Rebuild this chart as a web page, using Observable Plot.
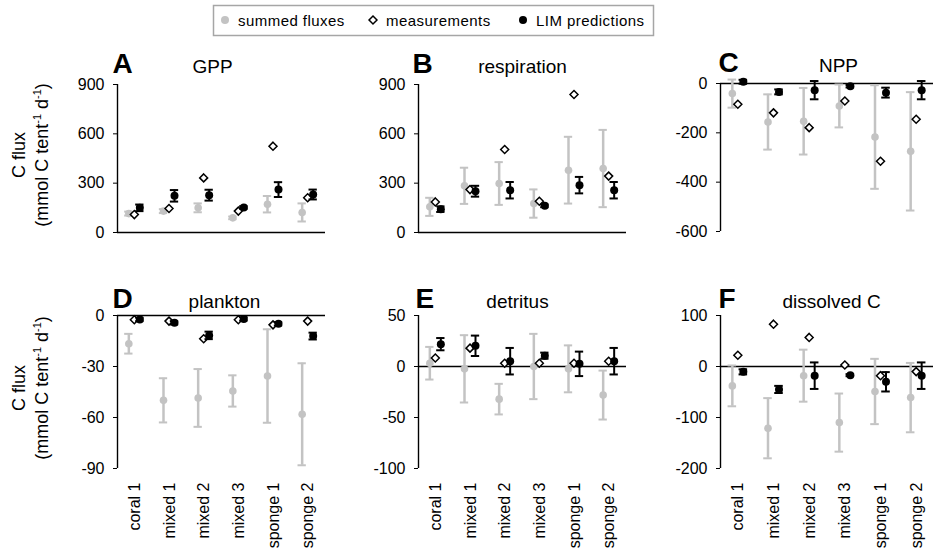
<!DOCTYPE html>
<html><head><meta charset="utf-8">
<script src="https://cdn.jsdelivr.net/npm/d3@7"></script>
<script src="https://cdn.jsdelivr.net/npm/@observablehq/plot@0.6"></script>
<style>
html,body{margin:0;padding:0;background:#fff;overflow:hidden;}
#root{position:relative;width:933px;height:550px;overflow:hidden;font-family:"Liberation Sans",Arial,sans-serif;}
.panel{position:absolute;}
.panel svg{overflow:visible;max-width:none;background:transparent;}
#overlay{position:absolute;left:0;top:0;}
</style></head><body><div id="root"></div>
<script>
// ---------- data ----------
const categories = ["coral 1", "mixed 1", "mixed 2", "mixed 3", "sponge 1", "sponge 2"];
const seriesNames = ["summed fluxes", "measurements", "LIM predictions"];

// A: GPP
const gppSummed = [115, 130, 150, 89, 172, 122];
const gppSummedErr = [12, 12, 27, 8, 50, 55];
const gppMeas = [109, 146, 332, 130, 525, 211];
const gppLim = [150, 223, 227, 152, 261, 231];
const gppLimErr = [20, 35, 33, 8, 45, 30];

// B: respiration
const respSummed = [156, 284, 298, 176, 379, 389];
const respSummedErr = [55, 110, 130, 86, 203, 235];
const respMeas = [186, 261, 505, 190, 839, 343];
const respLim = [142, 251, 257, 162, 288, 257];
const respLimErr = [17, 33, 50, 8, 50, 50];

// C: NPP
const nppSummed = [-41, -156, -153, -91, -217, -275];
const nppSummedErr = [57, 112, 135, 87, 210, 240];
const nppMeas = [-84, -119, -179, -71, -315, -145];
const nppLim = [7, -34, -27, -11, -37, -27];
const nppLimErr = [8, 10, 37, 5, 20, 37];

// D: plankton
const plankSummed = [-16.6, -49.9, -48.5, -44.4, -35.6, -58.1];
const plankSummedErr = [5.8, 13, 17, 9.2, 27.5, 30];
const plankMeas = [-2.5, -3.3, -13.7, -2.5, -5.5, -3.3];
const plankLim = [-2.3, -4.3, -11.7, -2, -4.9, -12.1];
const plankLimErr = [1, 1, 2.2, 1, 1, 2];

// E: detritus
const detSummed = [3.2, -2.3, -32, 0, -2.3, -28];
const detSummedErr = [16, 33, 15, 32, 23, 24];
const detMeas = [8.4, 18, 3.2, 3.2, 3.2, 5.2];
const detLim = [21.9, 20.3, 5.2, 10.6, 2.6, 5.2];
const detLimErr = [6, 10, 13, 3, 12, 13];

// F: dissolved C
const dissSummed = [-38, -121, -18, -110, -49, -61];
const dissSummedErr = [40, 59, 51, 57, 64, 68];
const dissMeas = [22, 83, 57, 3, -18, -10];
const dissLim = [-10.5, -45, -18, -17, -30, -18];
const dissLimErr = [5, 7, 26, 2, 19, 26];

const gppTicks = [0, 300, 600, 900];
const respTicks = [0, 300, 600, 900];
const nppTicks = [-600, -400, -200, 0];
const plankTicks = [-90, -60, -30, 0];
const detTicks = [-100, -50, 0, 50];
const dissTicks = [-200, -100, 0, 100];

// ---------- layout ----------
const GRAY = "#c3c3c3";
const FONT = "Liberation Sans, Arial, Helvetica, sans-serif";
const root = document.getElementById("root");

const panels = [
  {letter: "A", title: "GPP", s: gppSummed, se: gppSummedErr, m: gppMeas, l: gppLim, le: gppLimErr, ticks: gppTicks, left: 57, top: 40, w: 270, row: 0, tdx: -9, ldx: -5},
  {letter: "B", title: "respiration", s: respSummed, se: respSummedErr, m: respMeas, l: respLim, le: respLimErr, ticks: respTicks, left: 358, top: 40, w: 270, row: 0, tdx: 0, ldx: -6},
  {letter: "C", title: "NPP", s: nppSummed, se: nppSummedErr, m: nppMeas, l: nppLim, le: nppLimErr, ticks: nppTicks, left: 660, top: 39, w: 276, row: 0, tdx: 11, ldx: -2},
  {letter: "D", title: "plankton", s: plankSummed, se: plankSummedErr, m: plankMeas, l: plankLim, le: plankLimErr, ticks: plankTicks, left: 57, top: 270, w: 270, row: 1, tdx: 3, ldx: -5},
  {letter: "E", title: "detritus", s: detSummed, se: detSummedErr, m: detMeas, l: detLim, le: detLimErr, ticks: detTicks, left: 358, top: 270, w: 270, row: 1, tdx: -5, ldx: -3},
  {letter: "F", title: "dissolved C", s: dissSummed, se: dissSummedErr, m: dissMeas, l: dissLim, le: dissLimErr, ticks: dissTicks, left: 660, top: 270, w: 276, row: 1, tdx: 4, ldx: -2}
];

// overlay: legend + y titles
const ov = d3.select(root).append("svg").attr("id", "overlay").attr("width", 933).attr("height", 550)
  .style("font-family", FONT);
const lg = ov.append("g");
lg.append("rect").attr("x", 213.5).attr("y", 5.5).attr("width", 440).attr("height", 30)
  .attr("fill", "none").attr("stroke", "#a6a6a6").attr("stroke-width", 1.5);
const legendX = [225, 373, 523];
lg.append("circle").attr("cx", legendX[0]).attr("cy", 20).attr("r", 4).attr("fill", GRAY);
lg.append("path").attr("d", d3.symbol(d3.symbolDiamond2, 40)()).attr("transform", `translate(${legendX[1]},20)`)
  .attr("fill", "#fff").attr("stroke", "#000").attr("stroke-width", 1.5);
lg.append("circle").attr("cx", legendX[2]).attr("cy", 20).attr("r", 4).attr("fill", "#000");
seriesNames.forEach((n, i) => {
  lg.append("text").attr("x", legendX[i] + 13).attr("y", 25.5).attr("font-size", 15)
    .style("letter-spacing", "0.45px").text(n);
});
[155, 388].forEach(yc => {
  ov.append("text").attr("transform", `translate(25,${yc}) rotate(-90)`).attr("text-anchor", "middle")
    .attr("font-size", 18).text("C flux");
  const t = ov.append("text").attr("transform", `translate(48,${yc}) rotate(-90)`).attr("text-anchor", "middle")
    .attr("font-size", 18);
  t.append("tspan").text("(mmol C tent");
  t.append("tspan").attr("font-size", 11).attr("dy", -7).text("-1");
  t.append("tspan").attr("dy", 7).text(" d");
  t.append("tspan").attr("font-size", 11).attr("dy", -7).text("-1");
  t.append("tspan").attr("dy", 7).text(")");
});

// ---------- panels ----------
const cap = 0.12;
panels.forEach(p => {
  const rows = categories.map((c, i) => ({c, i, s: p.s[i], se: p.se[i], m: p.m[i], l: p.l[i], le: p.le[i]}));
  const top = p.row === 0;
  const mt = top ? 44 : 45;
  const mb = top ? 10 : 82;
  const h = top ? 202 : 280;
  const chart = Plot.plot({
    width: p.w, height: h,
    marginLeft: 60, marginRight: 2, marginTop: mt, marginBottom: mb,
    style: {fontSize: "16px", fontFamily: FONT, background: "transparent", overflow: "visible", color: "#000"},
    x: {domain: [-0.5, 5.5], axis: top ? null : "bottom", ticks: d3.range(categories.length),
        tickFormat: i => categories[i], tickRotate: -90, tickSize: 0, tickPadding: 14, label: null},
    y: {domain: d3.extent(p.ticks), ticks: p.ticks, tickSize: 4, tickPadding: 9, label: null, tickFormat: d => String(d)},
    marks: [
      Plot.ruleX([-0.5], {stroke: "#000", strokeWidth: 1.4}),
      Plot.ruleY([0], {stroke: "#000", strokeWidth: 1.4}),
      // summed fluxes
      Plot.ruleX(rows, {x: "i", y1: d => d.s - d.se, y2: d => d.s + d.se, dx: -6, stroke: GRAY, strokeWidth: 2.5}),
      Plot.ruleY(rows, {x1: d => d.i - cap, x2: d => d.i + cap, y: d => d.s - d.se, dx: -6, stroke: GRAY, strokeWidth: 2}),
      Plot.ruleY(rows, {x1: d => d.i - cap, x2: d => d.i + cap, y: d => d.s + d.se, dx: -6, stroke: GRAY, strokeWidth: 2}),
      Plot.dot(rows, {x: "i", y: "s", dx: -6, r: 3.8, fill: GRAY}),
      // measurements
      Plot.dot(rows, {x: "i", y: "m", dx: -0.5, symbol: "diamond2", r: 3.6, fill: "#fff", stroke: "#000", strokeWidth: 1.5}),
      // LIM predictions
      Plot.ruleX(rows, {x: "i", y1: d => d.l - d.le, y2: d => d.l + d.le, dx: 5, stroke: "#000", strokeWidth: 2}),
      Plot.ruleY(rows, {x1: d => d.i - cap, x2: d => d.i + cap, y: d => d.l - d.le, dx: 5, stroke: "#000", strokeWidth: 2}),
      Plot.ruleY(rows, {x1: d => d.i - cap, x2: d => d.i + cap, y: d => d.l + d.le, dx: 5, stroke: "#000", strokeWidth: 2}),
      Plot.dot(rows, {x: "i", y: "l", dx: 5, r: 4, fill: "#000"}),
      // titles
      Plot.text([p.title], {text: d => d, frameAnchor: "top", lineAnchor: "bottom", dy: top ? -12 : -8, dx: p.tdx, fontSize: 19, fill: "#000"}),
      Plot.text([p.letter], {text: d => d, frameAnchor: "top-left", textAnchor: "start", lineAnchor: "bottom", dy: top ? -12 : -8, dx: p.ldx, fontSize: 28, fontWeight: "bold", fill: "#000"})
    ]
  });
  const div = document.createElement("div");
  div.className = "panel";
  div.style.left = p.left + "px";
  div.style.top = p.top + "px";
  div.style.width = p.w + "px";
  div.appendChild(chart);
  root.appendChild(div);
});
</script>
</body></html>
